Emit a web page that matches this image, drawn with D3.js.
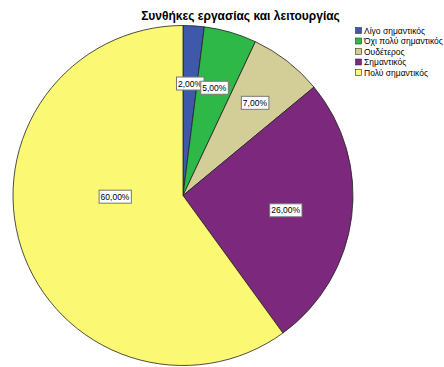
<!DOCTYPE html>
<html>
<head>
<meta charset="utf-8">
<script src="https://cdn.jsdelivr.net/npm/d3@7"></script>
<style>
  html, body { margin: 0; padding: 0; background: #fff; }
  svg { display: block; font-family: "Liberation Sans", Arial, sans-serif; }
</style>
</head>
<body>
<svg id="chart" width="444" height="367"></svg>
<script>
// Survey answers: share of respondents per importance level
const title = "Συνθήκες εργασίας και λειτουργίας";
const categories = ["Λίγο σημαντικός", "Όχι πολύ σημαντικός", "Ουδέτερος", "Σημαντικός", "Πολύ σημαντικός"];
const percents = [2, 5, 7, 26, 60];
const colors = ["#3E58AC", "#2EB848", "#D3CE97", "#7C287D", "#FBF873"];

// label placement: distance from centre (fraction of radius) and angular nudge (degrees)
const labelRadius = [0.66, 0.66, 0.69, 0.61, 0.40];
const labelNudge = [0, 0, 0, 1, 17];

const svg = d3.select("#chart");
const cx = 183, cy = 195.5, r = 170;

svg.append("text")
  .attr("x", 240.5).attr("y", 20)
  .attr("text-anchor", "middle")
  .attr("font-size", 12).attr("font-weight", "bold")
  .attr("fill", "#000")
  .text(title);

const pie = d3.pie().sort(null).value(d => d)(percents);
const arc = d3.arc().innerRadius(0).outerRadius(r);

const g = svg.append("g").attr("transform", `translate(${cx},${cy})`);

g.selectAll("path.slice")
  .data(pie)
  .join("path")
  .attr("class", "slice")
  .attr("d", arc)
  .attr("fill", (d, i) => colors[i])
  .attr("stroke", "#222")
  .attr("stroke-width", 0.8);

const fmt = v => d3.format(".2f")(v).replace(".", ",") + "%";

const labels = g.selectAll("g.lbl")
  .data(pie)
  .join("g")
  .attr("class", "lbl")
  .attr("transform", (d, i) => {
    const a = (d.startAngle + d.endAngle) / 2 + labelNudge[i] * Math.PI / 180;
    const rr = r * labelRadius[i];
    return `translate(${rr * Math.sin(a)},${-rr * Math.cos(a)})`;
  });

labels.each(function(d, i) {
  const sel = d3.select(this);
  const t = sel.append("text")
    .attr("text-anchor", "middle")
    .attr("dy", "0.35em")
    .attr("font-size", 8.5)
    .attr("fill", "#000")
    .text(fmt(percents[i]));
  const bb = t.node().getBBox();
  sel.insert("rect", "text")
    .attr("x", bb.x - 1.5).attr("y", -6.5)
    .attr("width", bb.width + 3).attr("height", 13)
    .attr("fill", "#fff")
    .attr("stroke", "#777").attr("stroke-width", 1);
});

// legend
const legend = svg.append("g").attr("transform", "translate(355,27)");
const rowH = 10.5;
const item = legend.selectAll("g")
  .data(categories)
  .join("g")
  .attr("transform", (d, i) => `translate(0,${i * rowH})`);
item.append("rect")
  .attr("x", 0.5).attr("y", 0.5)
  .attr("width", 6).attr("height", 6)
  .attr("fill", (d, i) => colors[i])
  .attr("stroke", "#333").attr("stroke-width", 0.6);
item.append("text")
  .attr("x", 9).attr("y", 6.5)
  .attr("font-size", 8.5)
  .attr("fill", "#000")
  .text(d => d);
</script>
</body>
</html>
